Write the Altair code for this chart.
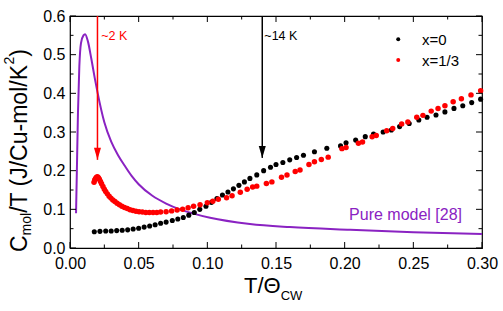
import altair as alt
import pandas as pd

# ---------------- data ----------------
pure_x = [0.0044, 0.0050, 0.0058, 0.0068, 0.0080, 0.0098, 0.0110, 0.0130, 0.0155, 0.0180,
          0.0200, 0.0250, 0.0300, 0.0350, 0.0400, 0.0450, 0.0500, 0.0600, 0.0700, 0.0800,
          0.0900, 0.1020, 0.1310, 0.1600, 0.2040, 0.2500, 0.3000]
pure_y = [0.090, 0.200, 0.350, 0.470, 0.530, 0.550, 0.553, 0.535, 0.490, 0.440,
          0.403, 0.325, 0.275, 0.240, 0.212, 0.186, 0.165, 0.135, 0.115, 0.100,
          0.089, 0.078, 0.062, 0.054, 0.047, 0.041, 0.036]

x0_x = [0.0177, 0.0218, 0.0260, 0.0300, 0.0340, 0.0380, 0.0420, 0.0460, 0.0500, 0.0540,
        0.0580, 0.0620, 0.0660, 0.0700, 0.0745, 0.0785, 0.0825, 0.0865, 0.0905, 0.0945,
        0.0990, 0.1030, 0.1070, 0.1110, 0.1150, 0.1190, 0.1230, 0.1270, 0.1310, 0.1360,
        0.1410, 0.1460, 0.1500, 0.1550, 0.1600, 0.1650, 0.1700, 0.1780, 0.1870, 0.1970,
        0.2010, 0.2080, 0.2150, 0.2210, 0.2280, 0.2340, 0.2400, 0.2470, 0.2540, 0.2600,
        0.2665, 0.2730, 0.2796, 0.2860, 0.2925, 0.2990]
x0_y = [0.042, 0.043, 0.044, 0.044, 0.045, 0.046, 0.047, 0.049, 0.051, 0.054,
        0.057, 0.060, 0.064, 0.067, 0.071, 0.075, 0.079, 0.085, 0.092, 0.100,
        0.108, 0.118, 0.128, 0.137, 0.145, 0.153, 0.162, 0.171, 0.180, 0.189,
        0.200, 0.209, 0.216, 0.221, 0.228, 0.234, 0.240, 0.249, 0.258, 0.264,
        0.272, 0.279, 0.288, 0.295, 0.300, 0.305, 0.314, 0.322, 0.331, 0.338,
        0.344, 0.352, 0.361, 0.368, 0.376, 0.385]

x13_x = [0.0175, 0.0180, 0.0186, 0.0193, 0.0200, 0.0207, 0.0214, 0.0222, 0.0230, 0.0240,
         0.0250, 0.0260, 0.0272, 0.0285, 0.0298, 0.0312, 0.0327, 0.0343, 0.0360, 0.0378,
         0.0397, 0.0417, 0.0437, 0.0458, 0.0480, 0.0503, 0.0527, 0.0552, 0.0578, 0.0605,
         0.0632, 0.0660, 0.0700, 0.0740, 0.0780, 0.0820, 0.0860, 0.0900, 0.0947, 0.1000,
         0.1040, 0.1080, 0.1140, 0.1180, 0.1240, 0.1290, 0.1330, 0.1360, 0.1430, 0.1470,
         0.1540, 0.1580, 0.1640, 0.1675, 0.1740, 0.1780, 0.1830, 0.1880, 0.1980, 0.2010,
         0.2100, 0.2130, 0.2200, 0.2230, 0.2306, 0.2350, 0.2415, 0.2460, 0.2525, 0.2570,
         0.2630, 0.2680, 0.2730, 0.2790, 0.2850, 0.2920, 0.2990]
x13_y = [0.170, 0.176, 0.180, 0.183, 0.184, 0.182, 0.178, 0.172, 0.166, 0.159,
         0.152, 0.146, 0.140, 0.134, 0.129, 0.124, 0.120, 0.116, 0.112, 0.108,
         0.105, 0.102, 0.099, 0.097, 0.095, 0.094, 0.093, 0.092, 0.092, 0.092,
         0.092, 0.093, 0.094, 0.096, 0.098, 0.100, 0.104, 0.108, 0.112, 0.117,
         0.121, 0.126, 0.130, 0.135, 0.144, 0.152, 0.158, 0.160, 0.167, 0.171,
         0.183, 0.189, 0.198, 0.202, 0.216, 0.223, 0.229, 0.235, 0.257, 0.260,
         0.271, 0.274, 0.288, 0.291, 0.303, 0.309, 0.321, 0.326, 0.338, 0.343,
         0.354, 0.361, 0.368, 0.378, 0.386, 0.396, 0.407]

arrow_x = [0.02, 0.14]
arrow_top = [0.6, 0.6]
arrow_tip = [0.228, 0.233]
arrow_labels = ["~2 K", "~14 K"]
arrow_colors = ["#ff0000", "#000000"]
arrow_label_x = [0.0228, 0.1415]
arrow_label_y = [0.538, 0.538]

legend_labels = ["x=0", "x=1/3"]
legend_colors = ["#000000", "#ff0000"]
legend_dot_x = [0.239, 0.239]
legend_dot_y = [0.540, 0.486]
legend_text_x = [0.2563, 0.2563]

model_label = "Pure model [28]"
model_label_x = 0.2032
model_label_y = 0.0724

x_major = [0.0, 0.05, 0.10, 0.15, 0.20, 0.25, 0.30]
x_minor = [0.025, 0.075, 0.125, 0.175, 0.225, 0.275]
y_major = [0.0, 0.1, 0.2, 0.3, 0.4, 0.5, 0.6]
y_minor = [0.05, 0.15, 0.25, 0.35, 0.45, 0.55]

# ---------------- layout ----------------
W, H = 412, 232
FONT = "Liberation Sans"
PURPLE = "#8a22c2"
RED = "#ff0000"

xs = alt.Scale(domain=[0, 0.3], nice=False, zero=False)
ys = alt.Scale(domain=[0, 0.6], nice=False, zero=False)
xaxis = alt.Axis(values=x_major, format=".2f", title=None, grid=False,
                 domain=False, ticks=False, tickSize=0, labelPadding=7,
                 labelFlush=False, labelOverlap=False, labelBound=False,
                 labelFontSize=16, labelFont=FONT, labelColor="black")
yaxis = alt.Axis(values=y_major, format=".1f", title=None, grid=False,
                 domain=False, ticks=False, tickSize=0, labelPadding=5,
                 labelFlush=False, labelOverlap=False, labelBound=False,
                 labelFontSize=16, labelFont=FONT, labelColor="black")

pure_df = pd.DataFrame({"x": pure_x, "y": pure_y})
x0_df = pd.DataFrame({"x": x0_x, "y": x0_y})
x13_df = pd.DataFrame({"x": x13_x, "y": x13_y})
arrow_df = pd.DataFrame({"x": arrow_x, "top": arrow_top, "tip": arrow_tip,
                         "label": arrow_labels, "color": arrow_colors,
                         "lx": arrow_label_x, "ly": arrow_label_y})
legend_df = pd.DataFrame({"label": legend_labels, "color": legend_colors,
                          "dx": legend_dot_x, "dy": legend_dot_y, "tx": legend_text_x})
model_df = pd.DataFrame({"label": [model_label], "x": [model_label_x], "y": [model_label_y]})

X = lambda f="x": alt.X(f"{f}:Q", scale=xs, axis=xaxis)
Y = lambda f="y": alt.Y(f"{f}:Q", scale=ys, axis=yaxis)

base_line = alt.Chart(pure_df).mark_line(color=PURPLE, strokeWidth=2, interpolate="monotone").encode(
    x=X(), y=Y())

black_pts = alt.Chart(x0_df).mark_circle(color="black", size=26, opacity=1).encode(x=X(), y=Y())
red_pts = alt.Chart(x13_df).mark_circle(color=RED, size=30, opacity=1).encode(x=X(), y=Y())

arrow_rules = alt.Chart(arrow_df).mark_rule(strokeWidth=1.5).encode(
    x=X(), y=Y("top"), y2="tip:Q",
    color=alt.Color("color:N", scale=None))
arrow_heads = alt.Chart(arrow_df).mark_point(
    shape="M-0.7,-2.4L0.7,-2.4L0,0Z", filled=True, size=100, opacity=1, strokeWidth=0
).encode(x=X(), y=Y("tip"), color=alt.Color("color:N", scale=None))
arrow_text = alt.Chart(arrow_df).mark_text(
    font=FONT, fontSize=12.5, align="left", baseline="alphabetic"
).encode(x=X("lx"), y=Y("ly"), text="label:N", color=alt.Color("color:N", scale=None))

legend_dots = alt.Chart(legend_df).mark_circle(size=16, opacity=1).encode(
    x=X("dx"), y=Y("dy"), color=alt.Color("color:N", scale=None))
legend_text = alt.Chart(legend_df).mark_text(
    font=FONT, fontSize=15, align="left", baseline="middle", dy=1, color="black"
).encode(x=X("tx"), y=Y("dy"), text="label:N")

model_text = alt.Chart(model_df).mark_text(
    font=FONT, fontSize=16, align="left", baseline="alphabetic", color=PURPLE
).encode(x=X("x"), y=Y("y"), text="label:N")

# inward ticks on all four sides
def tick_layers(vals, length, axis):
    df = pd.DataFrame({"v": vals})
    c = alt.Chart(df).mark_rule(color="black", strokeWidth=1)
    if axis == "x":
        return [
            c.encode(x=X("v"), y=alt.value(H), y2=alt.value(H - length)),
            c.encode(x=X("v"), y=alt.value(0), y2=alt.value(length)),
        ]
    return [
        c.encode(y=Y("v"), x=alt.value(0), x2=alt.value(length)),
        c.encode(y=Y("v"), x=alt.value(W), x2=alt.value(W - length)),
    ]

ticks = (tick_layers(x_major, 6, "x") + tick_layers(x_minor, 3.5, "x")
         + tick_layers(y_major, 6, "y") + tick_layers(y_minor, 3.5, "y"))

# axis titles with sub/superscripts
AW = {"C": 722, "m": 833, "o": 556, "l": 222, "/": 278, "T": 611, " ": 278, "(": 333,
      "J": 500, "u": 556, "-": 333, "K": 667, "2": 556, ")": 333, "Θ": 778, "W": 944}
def tw(s, size):
    return sum(AW.get(ch, 556) for ch in s) * size / 1000.0

one = alt.Data(values=[{}])
title_layers = []

# y title (reads bottom to top)
YF, YS = 23, 14
ybase = -43
ycur = 236
for txt, size, shift in [("C", YF, 0), ("mol", YS, 4), ("/T (J/Cu-mol/K", YF, 0),
                         ("2", YS, -13), (")", YF, 0)]:
    title_layers.append(
        alt.Chart(one).mark_text(text=txt, font=FONT, fontSize=size, angle=270,
                                 align="left", baseline="alphabetic", color="black")
        .encode(x=alt.value(ybase + shift), y=alt.value(ycur)))
    ycur -= tw(txt, size)

# x title
XF, XS = 22, 13
xcur = 174
xbase = H + 45
for txt, size, shift in [("T/Θ", XF, 0), ("CW", XS, 7)]:
    title_layers.append(
        alt.Chart(one).mark_text(text=txt, font=FONT, fontSize=size,
                                 align="left", baseline="alphabetic", color="black")
        .encode(x=alt.value(xcur), y=alt.value(xbase + shift)))
    xcur += tw(txt, size)

chart = alt.layer(
    base_line, black_pts, red_pts, arrow_rules, arrow_heads, arrow_text,
    legend_dots, legend_text, model_text, *ticks, *title_layers
).properties(
    width=W, height=H,
    autosize=alt.AutoSizeParams(type="none"),
    padding={"left": 70, "top": 16, "right": 21, "bottom": 63},
    background="white",
).configure_view(stroke="black", strokeWidth=1.2)

chart.save("out.html", embed_options={"renderer": "svg", "actions": False})
